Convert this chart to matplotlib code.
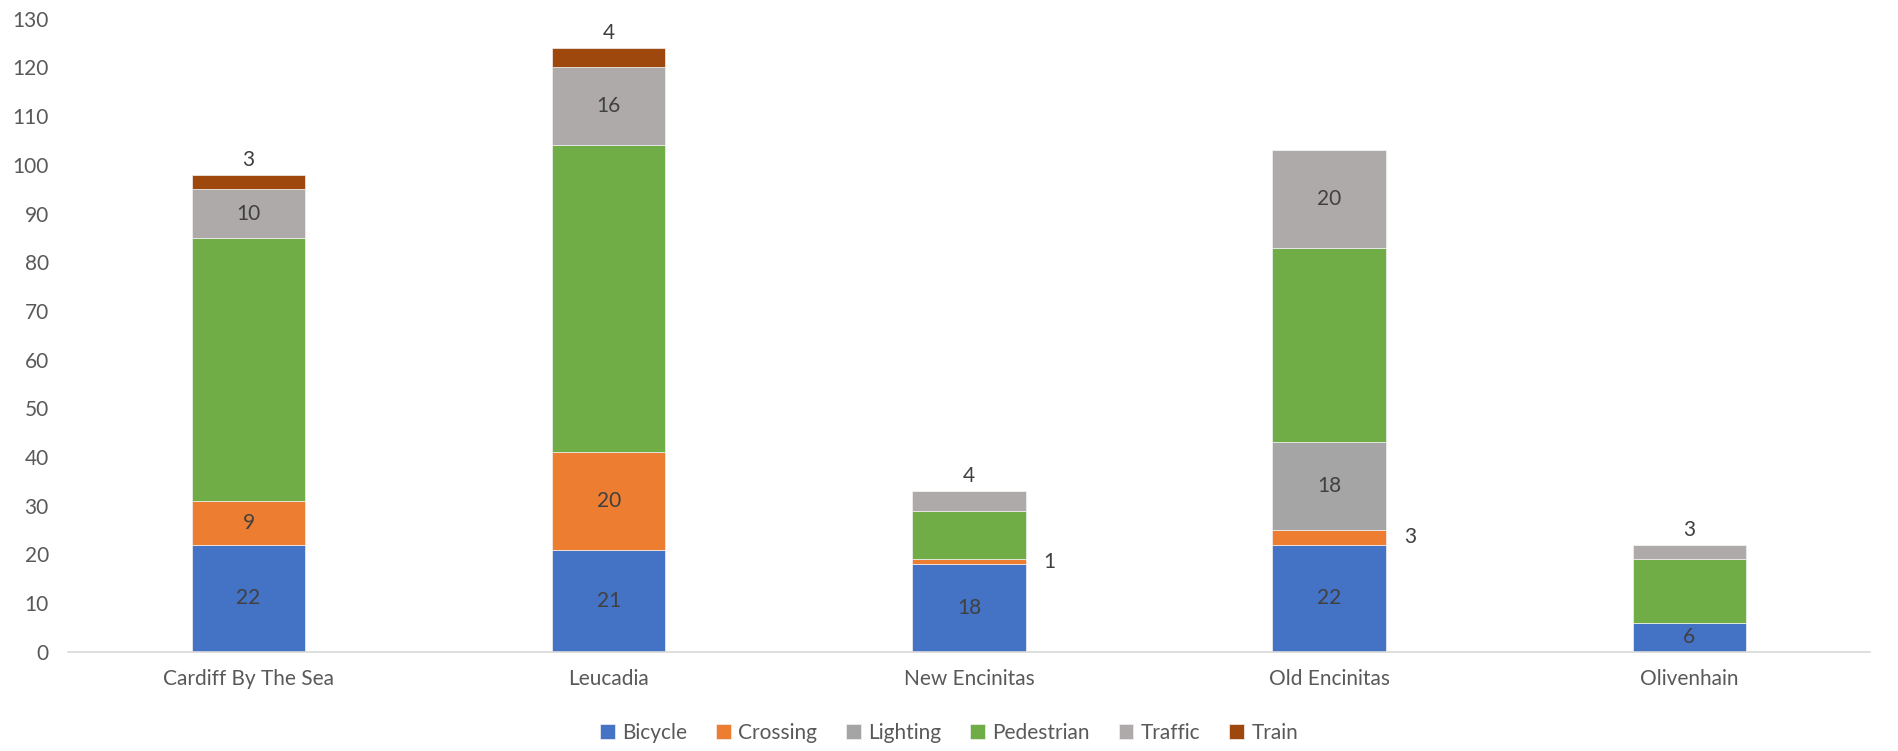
import matplotlib.pyplot as plt
import numpy as np

plt.rcParams['font.family'] = ['Lato', 'DejaVu Sans']

# data
areas = ['Cardiff By The Sea', 'Leucadia', 'New Encinitas', 'Old Encinitas', 'Olivenhain']
bicycle = [22, 21, 18, 22, 6]
crossing = [9, 20, 1, 3, 0]
lighting = [0, 0, 0, 18, 0]
pedestrian = [54, 63, 10, 40, 13]
traffic = [10, 16, 4, 20, 3]
train = [3, 4, 0, 0, 0]

series = [('Bicycle', bicycle, '#4472C4'),
          ('Crossing', crossing, '#ED7D31'),
          ('Lighting', lighting, '#A5A5A5'),
          ('Pedestrian', pedestrian, '#70AD47'),
          ('Traffic', traffic, '#AEAAAA'),
          ('Train', train, '#9E480E')]

# which labels are shown and where (Pedestrian has none)
label_pos = {
    ('Train', 0): 'above', ('Train', 1): 'above',
    ('Traffic', 2): 'above', ('Traffic', 4): 'above',
    ('Crossing', 2): 'right', ('Crossing', 3): 'right',
}

fs = 15
fig = plt.figure(figsize=(18.98, 7.51), dpi=100)
ax = fig.add_axes([0.036, 0.132, 0.949, 0.843])

x = np.arange(len(areas))
width = 0.315
bottom = np.zeros(len(areas))
for name, vals, col in series:
    vals = np.array(vals, dtype=float)
    ax.bar(x, vals, width, bottom=bottom, color=col, label=name,
           edgecolor='#F2F2F2', linewidth=0.5)
    if name != 'Pedestrian':
        for i, v in enumerate(vals):
            if v <= 0:
                continue
            pos = label_pos.get((name, i), 'center')
            if pos == 'center':
                ax.text(x[i], bottom[i] + v / 2, f'{int(v)}', ha='center', va='center',
                        fontsize=fs, color='#404040')
            elif pos == 'above':
                ax.text(x[i], bottom[i] + v + 1.0, f'{int(v)}', ha='center', va='bottom',
                        fontsize=fs, color='#404040')
            else:
                ax.text(x[i] + width / 2 + 0.05, bottom[i] + v / 2, f'{int(v)}',
                        ha='left', va='center', fontsize=fs, color='#404040')
    bottom += vals

ax.set_xlim(-0.5, len(areas) - 0.5)
ax.set_ylim(0, 130)
ax.set_yticks(np.arange(0, 131, 10))
ax.set_xticks(x)
ax.set_xticklabels(areas)
ax.tick_params(axis='both', length=0, labelsize=fs, labelcolor='#595959')
ax.tick_params(axis='x', pad=12)
ax.tick_params(axis='y', pad=14)
for s in ['top', 'right', 'left']:
    ax.spines[s].set_visible(False)
ax.spines['bottom'].set_color('#D9D9D9')
ax.spines['bottom'].set_linewidth(1.2)

leg = fig.legend(loc='center', bbox_to_anchor=(0.5, 0.024), ncol=6, frameon=False,
                 fontsize=fs, handlelength=0.7, handleheight=0.7, columnspacing=1.4,
                 handletextpad=0.35)
for t in leg.get_texts():
    t.set_color('#595959')

fig.savefig('out.png', dpi=100)
